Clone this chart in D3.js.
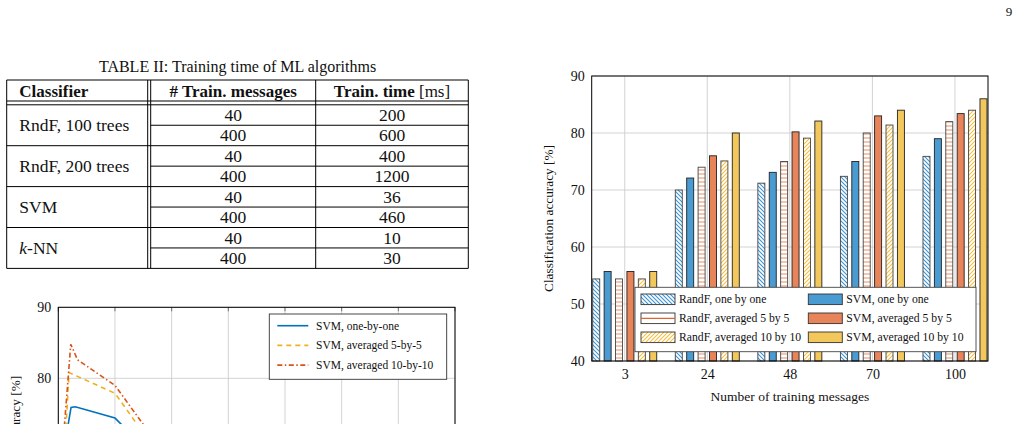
<!DOCTYPE html>
<html>
<head>
<meta charset="utf-8">
<script src="https://cdn.jsdelivr.net/npm/d3@7"></script>
<style>
  body { margin: 0; background: #fff; }
  svg text { font-family: "Liberation Serif", "Times New Roman", serif; fill: #111; }
</style>
</head>
<body>
<div id="page"></div>
<script>
// ---- table data
var tableTitle = "TABLE II: Training time of ML algorithms";
var classifiers = ["RndF, 100 trees", "RndF, 200 trees", "SVM", "k-NN"];
var trainMessages = [40, 400];
var trainTimes = [[200, 600], [400, 1200], [36, 460], [10, 30]];

// ---- bar chart data
var barCategories = ["3", "24", "48", "70", "100"];
var randfOne = [54.4, 70.0, 71.2, 72.4, 75.9];
var svmOne   = [55.7, 72.1, 73.1, 75.0, 79.0];
var randf5   = [54.4, 74.0, 75.0, 80.0, 82.0];
var svm5     = [55.7, 76.0, 80.2, 83.0, 83.4];
var randf10  = [54.4, 75.1, 79.1, 81.4, 84.0];
var svm10    = [55.7, 80.0, 82.1, 84.0, 86.0];
var barTicks = [40, 50, 60, 70, 80, 90];

// ---- line chart data (only the upper part is visible on the page)
var lineTicksY = [50, 60, 70, 80, 90];
var lineTicksX = [0, 20, 40, 60, 80, 100, 120, 140];
var svmOneByOne = [[2, 70], [4.5, 75.9], [6, 76.0], [20, 74.4], [40, 66.5]];
var svmAvg5 = [[2, 68], [3.8, 80.8], [20, 77.9], [40, 66.7]];
var svmAvg10 = [[1.5, 70], [4.4, 84.8], [6.8, 82.6], [20, 79.0], [40, 68]];

var blue = "#4a9bd1", orange = "#e8845a", yellow = "#f2c75c";

var svg = d3.select("#page").append("svg").attr("width", 1020).attr("height", 424);
svg.append("rect").attr("width", 1020).attr("height", 424).attr("fill", "#fff");

svg.append("text").attr("x", 1009).attr("y", 16).attr("text-anchor", "middle")
  .style("font-size", "13px").text("9");

// ================= TABLE =================
var tb = svg.append("g");
var tx = [6.7, 147.7, 150.7, 315.7, 468.3];
var tTop = 80, headBot = 101, bodyTop = 104.8, rowH = 20.45;
var tBottom = bodyTop + rowH * 8;

tb.append("text").attr("x", 237.5).attr("y", 72).attr("text-anchor", "middle")
  .style("font-size", "16px").text(tableTitle);

function hline(x1, x2, y) {
  tb.append("line").attr("x1", x1).attr("x2", x2).attr("y1", y).attr("y2", y)
    .attr("stroke", "#000").attr("stroke-width", 1);
}
function vline(x, y1, y2) {
  tb.append("line").attr("x1", x).attr("x2", x).attr("y1", y1).attr("y2", y2)
    .attr("stroke", "#000").attr("stroke-width", 1);
}
hline(tx[0], tx[4], tTop);
hline(tx[0], tx[4], headBot);
hline(tx[0], tx[4], bodyTop);
tx.forEach(function(x) { vline(x, tTop, tBottom); });
classifiers.forEach(function(c, i) {
  var y0 = bodyTop + i * 2 * rowH;
  hline(tx[2], tx[4], y0 + rowH);
  hline(tx[0], tx[4], y0 + 2 * rowH);
});

var hdr = tb.append("g").style("font-size", "17px");
hdr.append("text").attr("x", 19.3).attr("y", 96.5).style("font-weight", "bold").text("Classifier");
hdr.append("text").attr("x", (tx[2] + tx[3]) / 2).attr("y", 96.5).attr("text-anchor", "middle")
  .style("font-weight", "bold").text("# Train. messages");
var th = hdr.append("text").attr("x", (tx[3] + tx[4]) / 2).attr("y", 96.5).attr("text-anchor", "middle");
th.append("tspan").style("font-weight", "bold").text("Train. time");
th.append("tspan").text(" [ms]");

classifiers.forEach(function(c, i) {
  var y0 = bodyTop + i * 2 * rowH;
  var t = tb.append("text").attr("x", 19.3).attr("y", y0 + rowH + 6).style("font-size", "17.5px");
  if (c.indexOf("k-") === 0) {
    t.append("tspan").style("font-style", "italic").text("k");
    t.append("tspan").text(c.slice(1));
  } else t.text(c);
  trainMessages.forEach(function(m, j) {
    var yy = y0 + j * rowH + rowH / 2 + 6;
    tb.append("text").attr("x", (tx[2] + tx[3]) / 2).attr("y", yy).attr("text-anchor", "middle")
      .style("font-size", "17.5px").text(m);
    tb.append("text").attr("x", (tx[3] + tx[4]) / 2).attr("y", yy).attr("text-anchor", "middle")
      .style("font-size", "17.5px").text(trainTimes[i][j]);
  });
});

// ================= BAR CHART =================
var defs = svg.append("defs");
function hatch(id, color, kind) {
  var p = defs.append("pattern").attr("id", id).attr("patternUnits", "userSpaceOnUse")
    .attr("width", 4).attr("height", 4);
  p.append("rect").attr("width", 4).attr("height", 4).attr("fill", "#fff");
  var d = kind === "nw" ? "M-1,-1L5,5M-1,3L1,5M3,-1L5,1"
        : kind === "ne" ? "M-1,5L5,-1M-1,1L1,-1M3,5L5,3"
        : "M0,2L4,2";
  p.append("path").attr("d", d).attr("stroke", color).attr("stroke-width", kind === "h" ? 1.4 : 1.1);
}
hatch("hNW", "#3d94d0", "nw");
hatch("hH", "#f2ad8e", "h");
hatch("hNE", "#f5c040", "ne");

var series = [
  { name: "RandF, one by one", values: randfOne, fill: "url(#hNW)", hatched: true, line: null },
  { name: "SVM, one by one", values: svmOne, fill: blue },
  { name: "RandF, averaged 5 by 5", values: randf5, fill: "url(#hH)", hatched: true, line: "#e0652e" },
  { name: "SVM, averaged 5 by 5", values: svm5, fill: orange },
  { name: "RandF, averaged 10 by 10", values: randf10, fill: "url(#hNE)", hatched: true },
  { name: "SVM, averaged 10 by 10", values: svm10, fill: yellow }
];

var bL = 591.7, bR = 988, bT = 76, bB = 361;
var bx = d3.scalePoint().domain(barCategories).range([bL, bR]).padding(0.4);
var bxi = d3.scaleBand().domain(d3.range(series.length)).range([-34.2, 34.2])
  .paddingInner(0.386).paddingOuter(0.193);
var by = d3.scaleLinear().domain([40, 90]).range([bB, bT]);

var bc = svg.append("g");
// grid
bc.append("g").selectAll("line").data(barTicks).join("line")
  .attr("x1", bL).attr("x2", bR).attr("y1", by).attr("y2", by)
  .attr("stroke", "#c8c8c8").attr("stroke-width", 0.8);
bc.append("g").selectAll("line").data(barCategories).join("line")
  .attr("x1", bx).attr("x2", bx).attr("y1", bT).attr("y2", bB)
  .attr("stroke", "#c8c8c8").attr("stroke-width", 0.8);

// bars
series.forEach(function(s, si) {
  bc.append("g").selectAll("rect").data(s.values).join("rect")
    .attr("x", function(d, i) { return bx(barCategories[i]) + bxi(si); })
    .attr("width", bxi.bandwidth())
    .attr("y", function(d) { return by(d); })
    .attr("height", function(d) { return by(40) - by(d); })
    .attr("fill", s.fill)
    .attr("stroke", s.hatched ? "#444" : "#222").attr("stroke-width", 0.9);
});

// axis box and ticks
bc.append("rect").attr("x", bL).attr("y", bT).attr("width", bR - bL).attr("height", bB - bT)
  .attr("fill", "none").attr("stroke", "#000").attr("stroke-width", 1);
var yAxisB = d3.axisLeft(by).tickValues(barTicks).tickSize(0).tickPadding(7);
bc.append("g").attr("transform", "translate(" + bL + ",0)").call(yAxisB)
  .call(function(g) { g.select(".domain").remove(); })
  .selectAll("text").style("font-size", "14px").attr("font-family", null).attr("fill", "#111");
var xAxisB = d3.axisBottom(bx).tickSize(0).tickPadding(8);
bc.append("g").attr("transform", "translate(0," + bB + ")").call(xAxisB)
  .call(function(g) { g.select(".domain").remove(); })
  .selectAll("text").style("font-size", "14px").attr("font-family", null).attr("fill", "#111");
bc.append("text").attr("x", (bL + bR) / 2).attr("y", 401).attr("text-anchor", "middle")
  .style("font-size", "13.5px").text("Number of training messages");
bc.append("text").attr("transform", "translate(553," + (bT + bB) / 2 + ") rotate(-90)")
  .attr("text-anchor", "middle").style("font-size", "13.3px").text("Classification accuracy [%]");

// legend
var lg = bc.append("g");
lg.append("rect").attr("x", 635).attr("y", 287.3).attr("width", 341).attr("height", 64.4)
  .attr("fill", "#fff").attr("stroke", "#444").attr("stroke-width", 0.9);
series.forEach(function(s, si) {
  var col = si % 2, row = Math.floor(si / 2);
  var sx = col === 0 ? 641 : 808.3, cy = 299.3 + row * 19;
  var g = lg.append("g");
  if (s.line) {
    g.append("rect").attr("x", sx).attr("y", cy - 5.3).attr("width", 34).attr("height", 10.6)
      .attr("fill", "#fff").attr("stroke", "#333").attr("stroke-width", 0.9);
    g.append("line").attr("x1", sx).attr("x2", sx + 34).attr("y1", cy).attr("y2", cy)
      .attr("stroke", s.line).attr("stroke-width", 1.2);
  } else {
    g.append("rect").attr("x", sx).attr("y", cy - 5.3).attr("width", 34).attr("height", 10.6)
      .attr("fill", s.fill).attr("stroke", "#333").attr("stroke-width", 0.9);
  }
  g.append("text").attr("x", sx + 38).attr("y", cy + 4).style("font-size", "11.7px").text(s.name);
});

// ================= LINE CHART =================
var lL = 58.3, lR = 455, lT = 307.3, lB = 307.3 + 40 * 7.1;
var lx = d3.scaleLinear().domain([0, 140]).range([lL, lR]);
var ly = d3.scaleLinear().domain([50, 90]).range([lB, lT]);
var lc = svg.append("g");
defs.append("clipPath").attr("id", "lclip").append("rect")
  .attr("x", lL).attr("y", lT).attr("width", lR - lL).attr("height", lB - lT);

lc.append("g").selectAll("line").data(lineTicksY).join("line")
  .attr("x1", lL).attr("x2", lR).attr("y1", ly).attr("y2", ly)
  .attr("stroke", "#c8c8c8").attr("stroke-width", 0.8);
lc.append("g").selectAll("line").data(lineTicksX).join("line")
  .attr("x1", lx).attr("x2", lx).attr("y1", lT).attr("y2", lB)
  .attr("stroke", "#c8c8c8").attr("stroke-width", 0.8);
// top tick marks
lc.append("g").selectAll("line").data(lineTicksX).join("line")
  .attr("x1", lx).attr("x2", lx).attr("y1", lT).attr("y2", lT + 4)
  .attr("stroke", "#555").attr("stroke-width", 0.8);

var line = d3.line().x(function(d) { return lx(d[0]); }).y(function(d) { return ly(d[1]); });
var lines = [
  { name: "SVM, one-by-one", data: svmOneByOne, color: "#0072bd", dash: null },
  { name: "SVM, averaged 5-by-5", data: svmAvg5, color: "#edb120", dash: "5,4" },
  { name: "SVM, averaged 10-by-10", data: svmAvg10, color: "#d95319", dash: "5,2.5,1.5,2.5" }
];
var lp = lc.append("g").attr("clip-path", "url(#lclip)");
lines.forEach(function(s) {
  lp.append("path").datum(s.data).attr("d", line).attr("fill", "none")
    .attr("stroke", s.color).attr("stroke-width", 1.6)
    .attr("stroke-dasharray", s.dash);
});

lc.append("rect").attr("x", lL).attr("y", lT).attr("width", lR - lL).attr("height", lB - lT)
  .attr("fill", "none").attr("stroke", "#000").attr("stroke-width", 1);
// only the tick labels that fall on the page are drawn
var yAxisL = d3.axisLeft(ly).tickValues(lineTicksY.filter(function(v) { return ly(v) < 415; }))
  .tickSize(0).tickPadding(7);
lc.append("g").attr("transform", "translate(" + lL + ",0)").call(yAxisL)
  .call(function(g) { g.select(".domain").remove(); })
  .selectAll("text").style("font-size", "14px").attr("font-family", null).attr("fill", "#111");
lc.append("text").attr("transform", "translate(20," + (lT + lB) / 2 + ") rotate(-90)")
  .attr("text-anchor", "middle").style("font-size", "13.3px").text("Classification accuracy [%]");

var ll = lc.append("g");
ll.append("rect").attr("x", 269.3).attr("y", 314).attr("width", 177.4).attr("height", 65.3)
  .attr("fill", "#fff").attr("stroke", "#333").attr("stroke-width", 0.9);
lines.forEach(function(s, i) {
  var cy = 325.7 + i * 19.7;
  ll.append("line").attr("x1", 277.3).attr("x2", 308.3).attr("y1", cy).attr("y2", cy)
    .attr("stroke", s.color).attr("stroke-width", 1.6).attr("stroke-dasharray", s.dash);
  ll.append("text").attr("x", 316).attr("y", cy + 4).style("font-size", "11.5px").text(s.name);
});
</script>
</body>
</html>
